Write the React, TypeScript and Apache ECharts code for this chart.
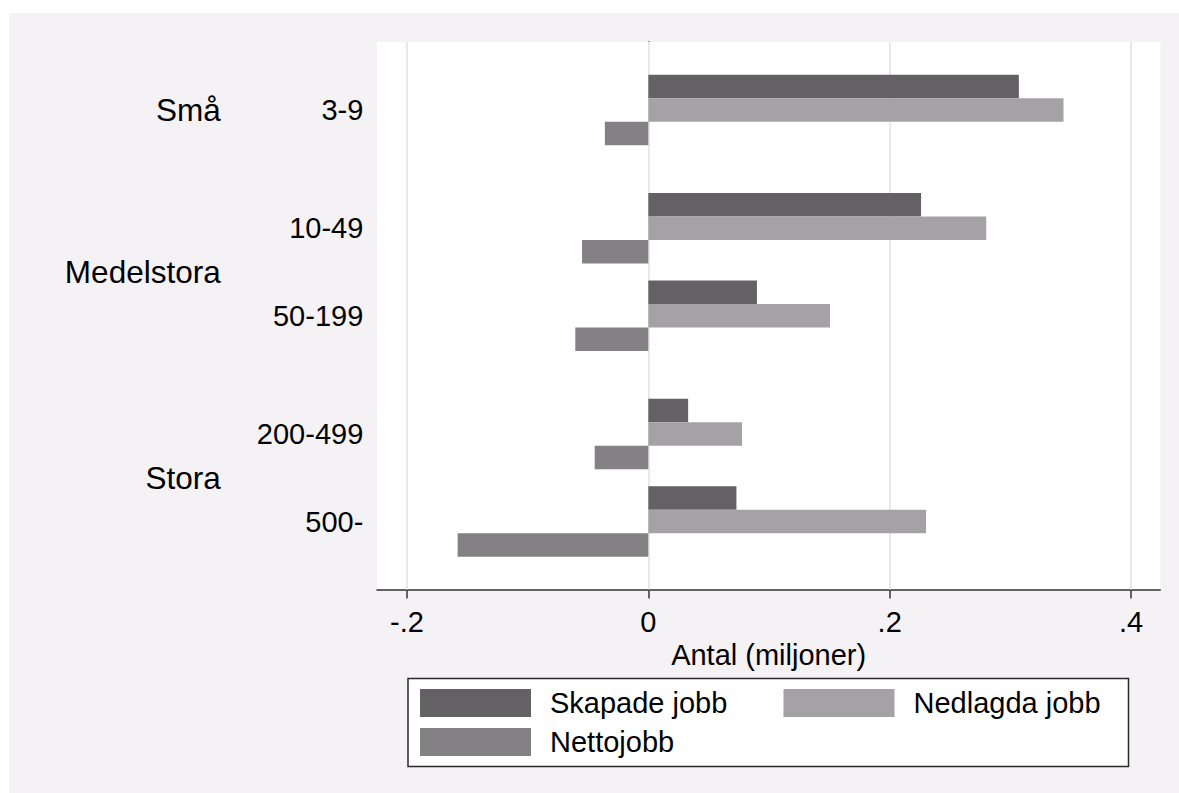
import React, { useEffect, useRef } from "react";
import * as echarts from "echarts";

// ---- data ----
const sizeClasses = ["3-9", "10-49", "50-199", "200-499", "500-"];
const firmGroups = ["Små", "Medelstora", "Stora"];
const groupOfClass = [0, 1, 1, 2, 2];
const seriesNames = ["Skapade jobb", "Nedlagda jobb", "Nettojobb"];
const skapade = [0.307, 0.226, 0.09, 0.033, 0.073];
const nedlagda = [0.344, 0.28, 0.1505, 0.0776, 0.2301];
const netto = [-0.036, -0.0549, -0.0605, -0.0444, -0.158];
const xTicks = [-0.2, 0, 0.2, 0.4];
const xTitle = "Antal (miljoner)";
const seriesColors = ["#636164", "#A4A2A5", "#838184"];

// ---- layout of the category slots (blank slots make the group gaps) ----
const TOP_PAD = 15;
const INNER_GAP = 19;
const OUTER_GAP = 26;
const BOTTOM_PAD = 15;

const FONT = "'Liberation Sans', Arial, Helvetica, sans-serif";
const FS = 29;
const FS_GROUP = 31.5;

function buildSlots() {
  const labels: string[] = [];
  const slotOf: number[] = [];
  const pushBlank = (n: number) => {
    for (let i = 0; i < n; i++) labels.push("");
  };
  pushBlank(TOP_PAD);
  sizeClasses.forEach((c, k) => {
    if (k > 0) {
      pushBlank(groupOfClass[k] === groupOfClass[k - 1] ? INNER_GAP : OUTER_GAP);
    }
    slotOf.push(labels.length);
    labels.push(c);
  });
  pushBlank(BOTTOM_PAD);
  const superLabels: string[] = labels.map(() => "");
  firmGroups.forEach((g, gi) => {
    const idx = groupOfClass
      .map((v, k) => (v === gi ? slotOf[k] : -1))
      .filter((v) => v >= 0);
    const mid = Math.round((idx[0] + idx[idx.length - 1]) / 2);
    superLabels[mid] = g;
  });
  return { labels, slotOf, superLabels };
}

export default function App() {
  const ref = useRef<HTMLDivElement>(null);
  useEffect(() => {
    if (!ref.current) return;
    const chart = echarts.init(ref.current, undefined, { renderer: "svg" });
    const { labels, slotOf, superLabels } = buildSlots();
    const cats = labels.map((_, i) => "s" + i);
    const spread = (vals: number[]) => {
      const arr: (number | string)[] = cats.map(() => "-");
      vals.forEach((v, k) => {
        arr[slotOf[k]] = v;
      });
      return arr;
    };
    const seriesVals = [skapade, nedlagda, netto];
    const axisColor = "#333333";

    const option: any = {
      animation: false,
      backgroundColor: "#ffffff",
      textStyle: { fontFamily: FONT },
      graphic: [
        {
          type: "rect",
          z: -10,
          silent: true,
          shape: { x: 9, y: 13, width: 1179 - 9, height: 793 - 13 },
          style: { fill: "#F5F2F6" },
        },
        {
          type: "rect",
          z: -5,
          silent: true,
          shape: { x: 408, y: 678.5, width: 720.5, height: 88 },
          style: { fill: "#ffffff", stroke: "#2a2a2a", lineWidth: 1.5 },
        },
      ],
      grid: {
        left: 377,
        top: 42,
        right: 1179 - 1160.3,
        bottom: 793 - 589.5,
        show: true,
        backgroundColor: "#ffffff",
        borderWidth: 0,
        z: 0,
      },
      xAxis: {
        type: "value",
        min: -0.2248,
        max: 0.4242,
        splitLine: { show: false },
        axisLine: { show: true, onZero: false, lineStyle: { color: axisColor, width: 1.5 } },
        axisTick: {
          show: true,
          customValues: xTicks,
          length: 9,
          lineStyle: { color: axisColor, width: 1.5 },
        },
        axisLabel: {
          customValues: xTicks,
          margin: 17.5,
          fontSize: FS,
          fontFamily: FONT,
          color: "#000",
          formatter: (v: number) => (v === 0 ? "0" : String(v).replace("0.", ".")),
        },
        name: xTitle,
        nameLocation: "middle",
        nameGap: 46,
        nameTextStyle: { fontSize: FS, fontFamily: FONT, color: "#000" },
      },
      yAxis: [
        {
          type: "category",
          data: cats,
          inverse: true,
          axisLine: { show: true, lineStyle: { color: axisColor, width: 1.5 } },
          axisTick: { show: false },
          splitLine: { show: false },
          axisLabel: {
            interval: 0,
            margin: 13.7,
            fontSize: FS,
            fontFamily: FONT,
            color: "#000",
            formatter: (_v: string, i: number) => labels[i],
          },
        },
        {
          type: "category",
          data: cats,
          inverse: true,
          position: "left",
          axisLine: { show: false },
          axisTick: { show: false },
          splitLine: { show: false },
          axisLabel: {
            interval: 0,
            margin: 156.3,
            fontSize: FS_GROUP,
            fontFamily: FONT,
            color: "#000",
            formatter: (_v: string, i: number) => superLabels[i],
          },
        },
      ],
      legend: [
        { data: [seriesNames[0]], left: 420, top: 688.5 },
        { data: [seriesNames[1]], left: 783.5, top: 688.5 },
        { data: [seriesNames[2]], left: 420, top: 727.5 },
      ].map((l) => ({
        ...l,
        orient: "horizontal",
        padding: 0,
        itemWidth: 111,
        itemHeight: 28,
        icon: "rect",
        selectedMode: false,
        textStyle: { fontSize: FS, fontFamily: FONT, color: "#000", padding: [0, 0, 0, 14] },
      })),
      series: seriesNames.map((name, si) => ({
        name,
        type: "bar",
        yAxisIndex: 0,
        barWidth: 23.5,
        barGap: "0%",
        data: spread(seriesVals[si]),
        itemStyle: { color: seriesColors[si] },
        z: 2,
        ...(si === 0
          ? {
              markLine: {
                silent: true,
                z: 1,
                symbol: "none",
                label: { show: false },
                lineStyle: { color: "#ECE7EC", width: 2, type: "solid" },
                data: xTicks.map((v) => ({ xAxis: v })),
              },
            }
          : {}),
      })),
    };
    chart.setOption(option);
    return () => chart.dispose();
  }, []);
  return (
    <div
      ref={ref}
      style={{ position: "absolute", left: 0, top: 0, width: 1179, height: 793 }}
    />
  );
}
